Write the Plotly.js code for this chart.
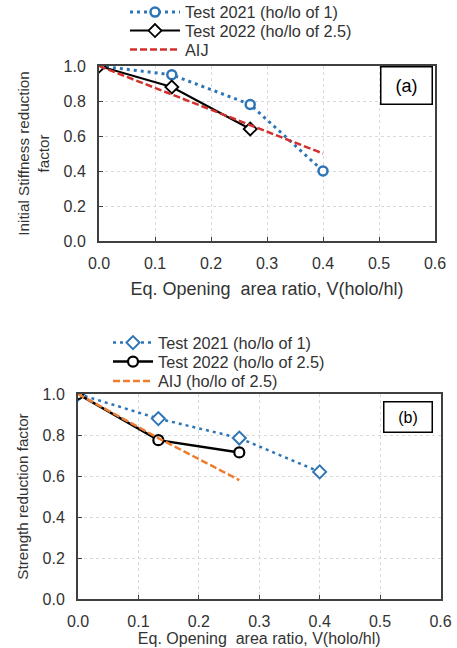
<!DOCTYPE html>
<html>
<head>
<meta charset="utf-8">
<script src="https://cdn.plot.ly/plotly-3.0.1.min.js"></script>
<style>html,body{margin:0;padding:0;background:#fff;}#chart{width:457px;height:648px;}</style>
</head>
<body>
<div id="chart"></div>
<script>
// ---- Data: panel (a) Initial stiffness reduction factor ----
const xTest2021a = [0, 0.13, 0.27, 0.40];
const yTest2021a = [1.00, 0.95, 0.78, 0.40];
const xTest2022a = [0, 0.13, 0.27];
const yTest2022a = [1.00, 0.88, 0.64];
const xAIJa = [0, 0.40];
const yAIJa = [1.00, 0.50];

// ---- Data: panel (b) Strength reduction factor ----
const xTest2021b = [0, 0.133, 0.267, 0.40];
const yTest2021b = [1.00, 0.88, 0.785, 0.62];
const xTest2022b = [0, 0.133, 0.267];
const yTest2022b = [1.00, 0.775, 0.715];
const xAIJb = [0, 0.133, 0.267];
const yAIJb = [1.00, 0.785, 0.58];

const xTicks = [0, 0.1, 0.2, 0.3, 0.4, 0.5, 0.6];
const xTickText = ['0.0', '0.1', '0.2', '0.3', '0.4', '0.5', '0.6'];
const yTicks = [0, 0.2, 0.4, 0.6, 0.8, 1.0];
const yTickText = ['0.0', '0.2', '0.4', '0.6', '0.8', '1.0'];

const namesA = ['Test 2021 (ho/lo of 1)', 'Test 2022 (ho/lo of 2.5)', 'AIJ'];
const namesB = ['Test 2021 (ho/lo of 1)', 'Test 2022 (ho/lo of 2.5)', 'AIJ (ho/lo of 2.5)'];
const xTitle = 'Eq. Opening  area ratio, V(holo/hl)';
const yTitleA = 'Initial Stiffness reduction<br>factor';
const yTitleB = 'Strength reduction factor';

const BLUE = '#2E75B6', RED = '#D0312D', ORANGE = '#ED7D31', BLACK = '#000000';
const TXT = '#333333';
const FONT = 'Liberation Sans, Arial, sans-serif';
const W = 457, H = 648;

const traces = [
  {x: xTest2021a, y: yTest2021a, name: namesA[0], xaxis: 'x', yaxis: 'y', legend: 'legend', mode: 'lines+markers',
   line: {color: BLUE, width: 3, dash: '3px,4px'},
   marker: {symbol: 'circle', size: 9, color: '#fff', line: {color: BLUE, width: 2.5}}},
  {x: xTest2022a, y: yTest2022a, name: namesA[1], xaxis: 'x', yaxis: 'y', legend: 'legend2', mode: 'lines+markers',
   line: {color: BLACK, width: 2},
   marker: {symbol: 'diamond', size: 10, color: '#fff', line: {color: BLACK, width: 1.8}}},
  {x: xAIJa, y: yAIJa, name: namesA[2], xaxis: 'x', yaxis: 'y', legend: 'legend3', mode: 'lines',
   line: {color: RED, width: 2.5, dash: '7px,3px'}},

  {x: xTest2021b, y: yTest2021b, name: namesB[0], xaxis: 'x2', yaxis: 'y2', legend: 'legend4', mode: 'lines+markers',
   line: {color: BLUE, width: 2.5, dash: '3px,4px'},
   marker: {symbol: 'diamond', size: 10, color: '#fff', line: {color: BLUE, width: 2}}},
  {x: xTest2022b, y: yTest2022b, name: namesB[1], xaxis: 'x2', yaxis: 'y2', legend: 'legend5', mode: 'lines+markers',
   line: {color: BLACK, width: 2.5},
   marker: {symbol: 'circle', size: 10, color: '#fff', line: {color: BLACK, width: 2.2}}},
  {x: xAIJb, y: yAIJb, name: namesB[2], xaxis: 'x2', yaxis: 'y2', legend: 'legend6', mode: 'lines',
   line: {color: ORANGE, width: 2.5, dash: '7px,3px'}}
];

function xAxis(domain, anchor, titleSize, standoff) {
  return {
    domain: domain, anchor: anchor, range: [0, 0.6],
    tickmode: 'array', tickvals: xTicks, ticktext: xTickText,
    ticks: 'inside', ticklen: 4, tickcolor: '#404040', tickwidth: 1,
    showgrid: true, gridcolor: '#d9d9d9', griddash: 'dot', gridwidth: 1,
    showline: true, linecolor: '#404040', linewidth: 2, mirror: true,
    zeroline: false, fixedrange: true, automargin: false,
    tickfont: {family: FONT, size: 16, color: TXT},
    ticklabelstandoff: 7,
    title: {text: xTitle, font: {family: FONT, size: titleSize, color: TXT}, standoff: standoff}
  };
}
function yAxis(domain, anchor, title, standoff) {
  return {
    domain: domain, anchor: anchor, range: [0, 1.0],
    tickmode: 'array', tickvals: yTicks, ticktext: yTickText,
    ticks: 'inside', ticklen: 4, tickcolor: '#404040', tickwidth: 1,
    showgrid: true, gridcolor: '#d9d9d9', griddash: 'dot', gridwidth: 1,
    showline: true, linecolor: '#404040', linewidth: 2, mirror: true,
    zeroline: false, fixedrange: true, automargin: false,
    tickfont: {family: FONT, size: 16, color: TXT},
    ticklabelstandoff: 8,
    title: {text: title, font: {family: FONT, size: 15.2, color: TXT}, standoff: standoff}
  };
}
function leg(xpx, ypx, size, iw) {
  return {x: xpx / W, y: 1 - ypx / H, xanchor: 'left', yanchor: 'middle', bgcolor: 'rgba(0,0,0,0)',
          font: {family: FONT, size: size, color: TXT}, itemwidth: iw, borderwidth: 0};
}

const layout = {
  width: W, height: H,
  margin: {l: 0, r: 0, t: 0, b: 0, autoexpand: false},
  paper_bgcolor: '#fff', plot_bgcolor: '#fff',
  font: {family: FONT, color: TXT},
  xaxis: xAxis([99 / W, 435 / W], 'y', 18, 11),
  yaxis: yAxis([1 - 241 / H, 1 - 66 / H], 'x', yTitleA, 10),
  xaxis2: xAxis([78 / W, 440.5 / W], 'y2', 16, 4),
  yaxis2: yAxis([1 - 599 / H, 1 - 394 / H], 'x2', yTitleB, 10),
  legend: leg(125, 12.5, 16.3, 50),
  legend2: leg(125, 31, 16.3, 50),
  legend3: leg(125, 50, 16.3, 50),
  legend4: leg(108, 343, 16.3, 40),
  legend5: leg(108, 362, 16.3, 40),
  legend6: leg(108, 381.5, 16.3, 40),
  annotations: [
    {xref: 'paper', yref: 'paper', x: 406 / W, y: 1 - 85 / H, text: '(a)', showarrow: false,
     font: {family: FONT, size: 18, color: '#000'}, bordercolor: '#000', borderwidth: 1.5,
     bgcolor: '#fff', width: 50, height: 36, borderpad: 0, xanchor: 'center', yanchor: 'middle'},
    {xref: 'paper', yref: 'paper', x: 407.5 / W, y: 1 - 416.5 / H, text: '(b)', showarrow: false,
     font: {family: FONT, size: 16, color: '#000'}, bordercolor: '#000', borderwidth: 1.5,
     bgcolor: '#fff', width: 47, height: 29, borderpad: 0, xanchor: 'center', yanchor: 'middle'}
  ],
  showlegend: true
};

Plotly.newPlot('chart', traces, layout, {displayModeBar: false, staticPlot: true});
</script>
</body>
</html>
